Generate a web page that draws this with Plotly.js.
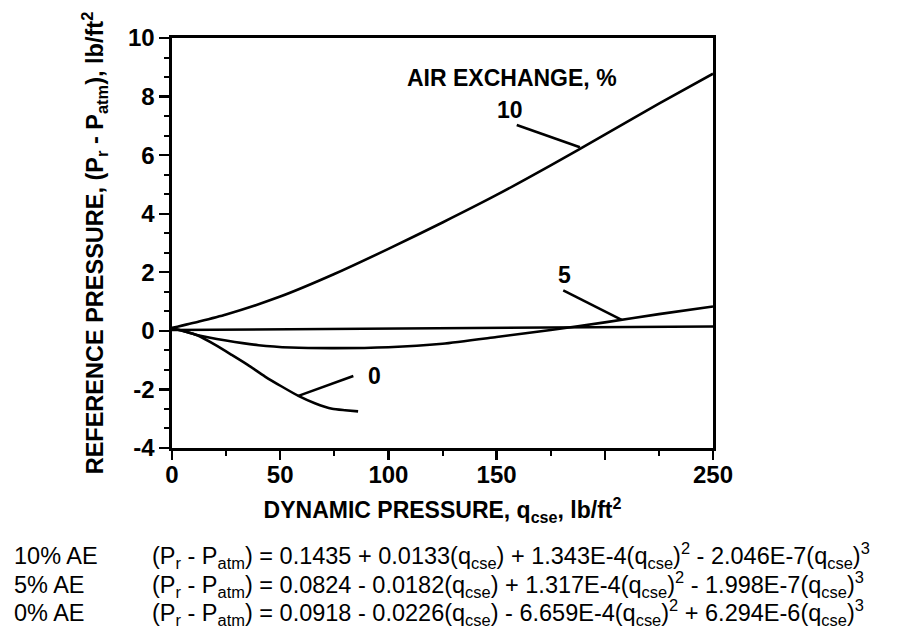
<!DOCTYPE html>
<html><head><meta charset="utf-8">
<script src="https://cdn.plot.ly/plotly-3.0.1.min.js"></script>
<style>html,body{margin:0;padding:0;background:#fff}#chart{width:897px;height:629px}</style>
</head><body><div id="chart"></div><script>
// Curves
const q10 = [0, 12.5, 25, 50, 75, 100, 125, 150, 175, 200, 225, 250];
const p10 = [0.10, 0.32, 0.56, 1.17, 1.94, 2.80, 3.70, 4.64, 5.65, 6.70, 7.76, 8.78];
const q5 = [0, 6, 12, 25, 40, 55, 75, 100, 125, 150, 175, 200, 225, 250];
const p5 = [0.08, -0.02, -0.15, -0.33, -0.49, -0.57, -0.59, -0.56, -0.44, -0.21, 0.03, 0.29, 0.57, 0.83];
const q0 = [0, 6, 12, 20, 27.6, 35, 43, 50.7, 58.4, 66, 74, 80, 86];
const p0 = [0.08, -0.02, -0.16, -0.48, -0.82, -1.16, -1.56, -1.90, -2.22, -2.47, -2.66, -2.71, -2.75];
const qRef = [0, 250];
const pRef = [0.03, 0.15];

// Axis ticks
const xTickVals = [0, 50, 100, 150, 200, 250];
const xTickText = ['0', '50', '100', '150', '', '250'];
const yTickVals = [-4, -2, 0, 2, 4, 6, 8, 10];
const yTickText = ['-4', '-2', '0', '2', '4', '6', '8', '10'];

// Curve labels (text, x, y) and leader lines (x0, y0, x1, y1)
const curveLabels = ['AIR EXCHANGE, %', '10', '5', '0'];
const curveLabelX = [156.9, 156, 181.6, 93.5];
const curveLabelY = [8.63, 7.54, 1.91, -1.54];
const leaders = [[159.3, 7.03, 188.5, 6.27], [180.8, 1.38, 207.8, 0.375], [83.8, -1.54, 58.4, -2.22]];

// Equation rows under the chart
const caseLabels = ['10% AE', '5% AE', '0% AE'];
const equations = [
  '(P<sub>r</sub> - P<sub>atm</sub>) = 0.1435 + 0.0133(q<sub>cse</sub>) + 1.343E-4(q<sub>cse</sub>)<sup>2</sup> - 2.046E-7(q<sub>cse</sub>)<sup>3</sup>',
  '(P<sub>r</sub> - P<sub>atm</sub>) = 0.0824 - 0.0182(q<sub>cse</sub>) + 1.317E-4(q<sub>cse</sub>)<sup>2</sup> - 1.998E-7(q<sub>cse</sub>)<sup>3</sup>',
  '(P<sub>r</sub> - P<sub>atm</sub>) = 0.0918 - 0.0226(q<sub>cse</sub>) - 6.659E-4(q<sub>cse</sub>)<sup>2</sup> + 6.294E-6(q<sub>cse</sub>)<sup>3</sup>'
];

const FONT = 'Liberation Sans, Arial, Helvetica, sans-serif';
const lineStyle = {color: '#000', width: 2.6, shape: 'spline', smoothing: 0.6};

const traces = [
  {x: qRef, y: pRef, mode: 'lines', line: {color: '#000', width: 2.4}, name: 'ref'},
  {x: q10, y: p10, mode: 'lines', line: lineStyle, name: '10%'},
  {x: q5, y: p5, mode: 'lines', line: lineStyle, name: '5%'},
  {x: q0, y: p0, mode: 'lines', line: lineStyle, name: '0%'}
];

const annotations = [];
curveLabels.forEach((t, i) => annotations.push({
  x: curveLabelX[i], y: curveLabelY[i], xref: 'x', yref: 'y', text: t, showarrow: false,
  xanchor: 'center', yanchor: 'middle', font: {family: FONT, size: 23, color: '#000', weight: 'bold'}
}));
const rowY = [-0.2634, -0.3341, -0.4024];
caseLabels.forEach((t, i) => {
  annotations.push({x: -0.2957, y: rowY[i], xref: 'paper', yref: 'paper', text: t, showarrow: false,
    xanchor: 'left', yanchor: 'middle', font: {family: FONT, size: 23.5, color: '#000'}});
  annotations.push({x: -0.0407, y: rowY[i], xref: 'paper', yref: 'paper', text: equations[i], showarrow: false,
    xanchor: 'left', yanchor: 'middle', font: {family: FONT, size: 23.5, color: '#000'}});
});

const shapes = leaders.map(l => ({type: 'line', xref: 'x', yref: 'y', x0: l[0], y0: l[1], x1: l[2], y1: l[3],
  line: {color: '#000', width: 2.6}}));

const layout = {
  width: 897, height: 629,
  margin: {l: 172, r: 184, t: 38, b: 181},
  paper_bgcolor: '#fff', plot_bgcolor: '#fff',
  showlegend: false,
  font: {family: FONT, color: '#000'},
  xaxis: {
    range: [0, 250], tickvals: xTickVals, ticktext: xTickText,
    ticks: 'outside', ticklen: 9, tickwidth: 2.4, tickcolor: '#000', ticklabelstandoff: -5,
    minor: {dtick: 25, ticks: 'outside', ticklen: 5, tickwidth: 2, tickcolor: '#000'},
    showline: true, linewidth: 2.6, linecolor: '#000', mirror: true,
    showgrid: false, zeroline: false,
    tickfont: {family: FONT, size: 24, color: '#000', weight: 'bold'},
    title: {text: 'DYNAMIC PRESSURE, q<sub>cse</sub>, lb/ft<sup>2</sup>', standoff: 15,
      font: {family: FONT, size: 23, color: '#000', weight: 'bold'}}
  },
  yaxis: {
    range: [-4, 10], tickvals: yTickVals, ticktext: yTickText,
    ticks: 'outside', ticklen: 10, tickwidth: 2.4, tickcolor: '#000',
    minor: {dtick: 2/3, tick0: -4, ticks: 'outside', ticklen: 5, tickwidth: 2, tickcolor: '#000'},
    showline: true, linewidth: 2.6, linecolor: '#000', mirror: true,
    showgrid: false, zeroline: false,
    tickfont: {family: FONT, size: 24, color: '#000', weight: 'bold'},
    title: {text: 'REFERENCE PRESSURE, (P<sub>r</sub> - P<sub>atm</sub>), lb/ft<sup>2</sup>', standoff: 18,
      font: {family: FONT, size: 23.5, color: '#000', weight: 'bold'}}
  },
  annotations: annotations,
  shapes: shapes
};

Plotly.newPlot('chart', traces, layout, {staticPlot: true});
</script></body></html>
